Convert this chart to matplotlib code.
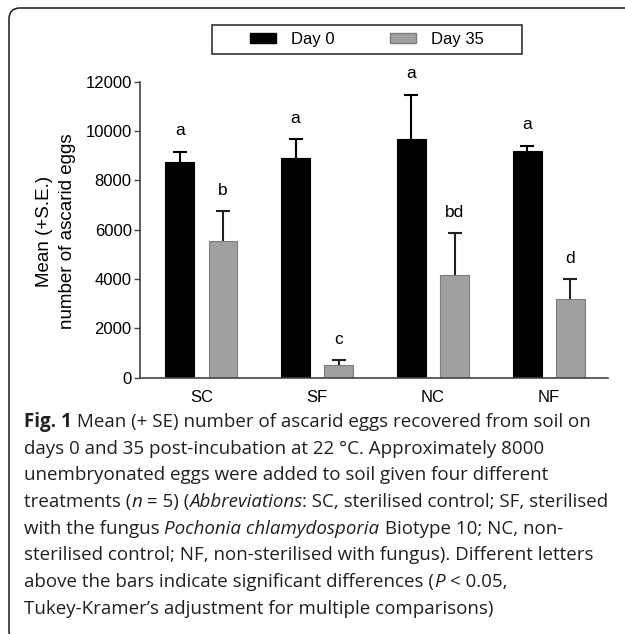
import numpy as np
import matplotlib
matplotlib.use("Agg")
import matplotlib.pyplot as plt
from matplotlib.patches import FancyBboxPatch, Rectangle, Patch
from matplotlib.transforms import IdentityTransform

plt.rcParams["font.family"] = ["Liberation Sans", "DejaVu Sans"]

# Egg counts per treatment (mean and upper S.E.)
treatments = ["SC", "SF", "NC", "NF"]
day0_mean = [8720, 8910, 9670, 9190]
day0_se = [430, 745, 1780, 205]
day35_mean = [5550, 495, 4170, 3195]
day35_se = [1185, 200, 1675, 785]
day0_letters = ["a", "a", "a", "a"]
day35_letters = ["b", "c", "bd", "d"]

W, H = 625, 634
fig = plt.figure(figsize=(W / 100, H / 100), dpi=100)

# rounded panel border, open to the right and bottom
frame = FancyBboxPatch((9, -8), 720, H, boxstyle="round,pad=0,rounding_size=11",
                       transform=IdentityTransform(), fill=False, edgecolor="#2b2b2b", linewidth=1.2)
fig.add_artist(frame)

ax = fig.add_axes([140 / W, 1 - 377.5 / H, (607.8 - 140) / W, (377.5 - 81.5) / H])

x = np.arange(len(treatments))
width = 0.25
off = 0.187
black = "#000000"
grey = "#a0a0a0"

ax.bar(x - off, day0_mean, width, color=black, edgecolor=black, linewidth=0.8, zorder=2)
ax.bar(x + off, day35_mean, width, color=grey, edgecolor="#7c7c7c", linewidth=0.8, zorder=2)

# upper-only error bars
for xs, means, ses, col in [(x - off, day0_mean, day0_se, black), (x + off, day35_mean, day35_se, "#222222")]:
    tops = np.array(means) + np.array(ses)
    ax.vlines(xs, means, tops, color=col, linewidth=1.5, zorder=3)
    ax.plot(xs, tops, linestyle="none", marker="_", markersize=10, markeredgewidth=1.5,
            color=col, zorder=3, clip_on=False)

# significance letters
for xs, means, ses, letters in [(x - off, day0_mean, day0_se, day0_letters),
                                (x + off, day35_mean, day35_se, day35_letters)]:
    for xi, m, s, lab in zip(xs, means, ses, letters):
        ax.annotate(lab, (xi, m + s), xytext=(0, 12), textcoords="offset points",
                    ha="center", va="baseline", fontsize=12.5, annotation_clip=False)

ax.set_xlim(-0.53, 3.51)
ax.set_ylim(0, 12000)
ax.set_yticks(np.arange(0, 12001, 2000))
ax.set_xticks(x)
ax.set_xticklabels(treatments)
for side in ["top", "right"]:
    ax.spines[side].set_visible(False)
for side in ["left", "bottom"]:
    ax.spines[side].set_color("#444444")
    ax.spines[side].set_linewidth(1.2)
ax.tick_params(axis="y", length=4.5, width=1.0, color="#444444", labelsize=12, pad=1.5)
ax.tick_params(axis="x", length=0, labelsize=12, pad=9)

fig.text(56 / W, 1 - 231 / H, "Mean (+S.E.)\nnumber of ascarid eggs", rotation=90,
         ha="center", va="center", fontsize=13.5, linespacing=1.42)

# legend with a plain box around it
handles = [Patch(facecolor=black, edgecolor=black), Patch(facecolor=grey, edgecolor="#7c7c7c")]
fig.legend(handles, ["Day 0", "Day 35"], loc="center", bbox_to_anchor=(367 / W, 1 - 39.5 / H),
           ncol=2, frameon=False, fontsize=12, handlelength=1.56, handleheight=0.5,
           handletextpad=0.9, columnspacing=3.3, borderpad=0)
fig.add_artist(Rectangle((212 / W, 1 - 54 / H), 310 / W, 29 / H, transform=fig.transFigure,
                         fill=False, edgecolor="#222222", linewidth=1.1))

# caption, drawn run by run so bold and italic pieces sit inline
cap_font = ["Open Sans", "DejaVu Sans"]
cap_size = 13.5
cap_color = "#231f20"
caption = [
    [("Fig. 1", "bold"), (" Mean (+ SE) number of ascarid eggs recovered from soil on", "")],
    [("days 0 and 35 post-incubation at 22 \u00b0C. Approximately 8000", "")],
    [("unembryonated eggs were added to soil given four different", "")],
    [("treatments (", ""), ("n", "italic"), (" = 5) (", ""), ("Abbreviations", "italic"),
     (": SC, sterilised control; SF, sterilised", "")],
    [("with the fungus ", ""), ("Pochonia chlamydosporia", "italic"), (" Biotype 10; NC, non-", "")],
    [("sterilised control; NF, non-sterilised with fungus). Different letters", "")],
    [("above the bars indicate significant differences (", ""), ("P", "italic"), (" < 0.05,", "")],
    [("Tukey-Kramer\u2019s adjustment for multiple comparisons)", "")],
]

fig.canvas.draw()
renderer = fig.canvas.get_renderer()


def text_kw(style):
    kw = dict(family=cap_font, fontsize=cap_size, color=cap_color)
    if style == "bold":
        kw["weight"] = "bold"
    if style == "italic":
        kw["style"] = "italic"
    return kw


def advance(s, style):
    t1 = fig.text(0, 0, "|" + s + "|", **text_kw(style))
    t2 = fig.text(0, 0, "||", **text_kw(style))
    w = t1.get_window_extent(renderer).width - t2.get_window_extent(renderer).width
    t1.remove()
    t2.remove()
    return w


x0 = 24
base0 = 427
step = 26.7
for i, runs in enumerate(caption):
    cx = x0
    y = 1 - (base0 + i * step) / H
    for s, style in runs:
        fig.text(cx / W, y, s, ha="left", va="baseline", **text_kw(style))
        cx += advance(s, style)

fig.savefig("out.png", dpi=100)
